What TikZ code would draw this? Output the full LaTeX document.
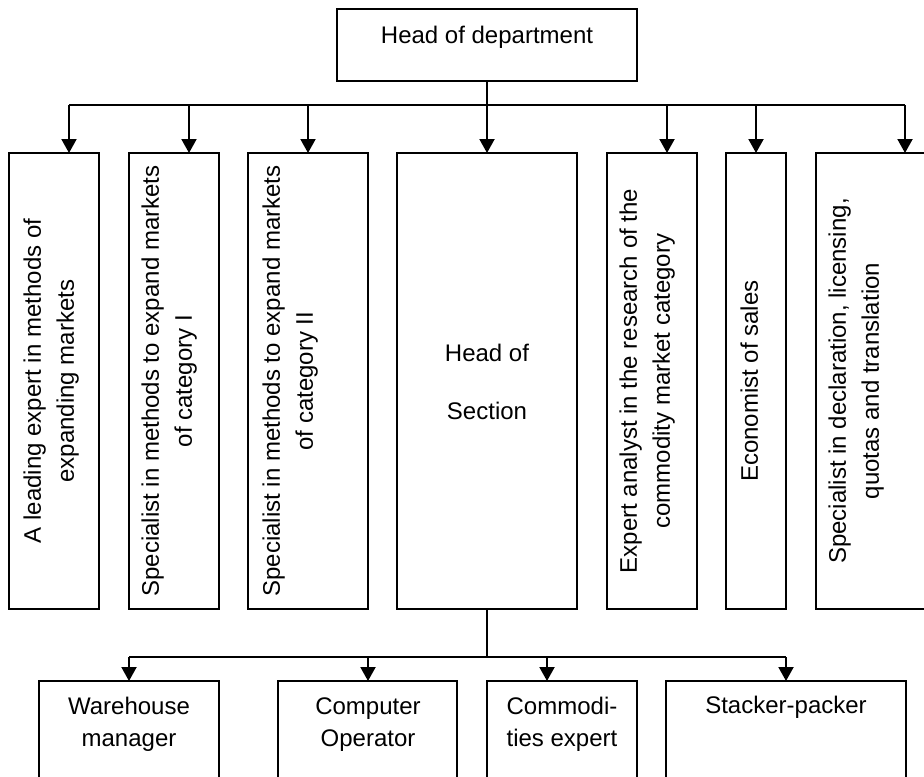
\documentclass[tikz,border=0pt]{standalone}
\usepackage{fontspec}
\setmainfont{Liberation Sans}
\usetikzlibrary{arrows.meta,fit}

\begin{document}
\begin{tikzpicture}[x=0.5pt,y=-0.5pt,
  box/.style={draw, line width=0.65pt, inner sep=0pt, outer sep=0pt},
  arr/.style={line width=1pt, -{Triangle[width=7.5pt,length=7pt]}},
  bus/.style={line width=0.6pt},
  lbl/.style={inner sep=0pt, anchor=north, align=center,
              font=\fontsize{12}{16.5}\selectfont},
  vlbl/.style={lbl, rotate=90}]
\useasboundingbox (0,0) rectangle (924,776);
\clip (0,0) rectangle (924,776);

% top of the chart
\node[box, fit={(337,9) (637,81)}] (head) {};
\node[lbl] (headtxt) at (487,26) {Head of department};

% first level: staff under the head of department
\node[box, fit={(9,153) (99,609)}]    (b1) {};
\node[box, fit={(129,153) (219,609)}] (b2) {};
\node[box, fit={(248,153) (368,609)}] (b3) {};
\node[box, fit={(397,153) (577,609)}] (b4) {};
\node[box, fit={(607,153) (697,609)}] (b5) {};
\node[box, fit={(726,153) (786,609)}] (b6) {};
\node[box, fit={(816,153) (996,609)}] (b7) {};

\node[vlbl] (t1) at (23,381)  {A leading expert in methods of\\expanding markets};
\node[vlbl] (t2) at (141,381) {Specialist in methods to expand markets\\of category I};
\node[vlbl] (t3) at (262,381) {Specialist in methods to expand markets\\of category II};
\node[lbl, font=\fontsize{12}{29}\selectfont] (t4) at (487,344) {Head of\\Section};
\node[vlbl] (t5) at (619,381) {Expert analyst in the research of the\\commodity market category};
\node[vlbl] (t6) at (740,381) {Economist of sales};
\node[vlbl] (t7) at (828,381) {Specialist in declaration, licensing,\\quotas and translation};

% second level: staff under the head of section
\node[box, fit={(39,681) (219,800)}]  (w1) {};
\node[box, fit={(278,681) (457,800)}] (w2) {};
\node[box, fit={(487,681) (637,800)}] (w3) {};
\node[box, fit={(666,681) (906,800)}] (w4) {};

\node[lbl, font=\fontsize{12}{16}\selectfont] (s1) at (129,697) {Warehouse\\manager};
\node[lbl, font=\fontsize{12}{16}\selectfont] (s2) at (368,697) {Computer\\Operator};
\node[lbl, font=\fontsize{12}{16}\selectfont] (s3) at (562,697) {Commodi-\\ties expert};
\node[lbl, font=\fontsize{12}{16}\selectfont] (s4) at (786,696) {Stacker-packer};

% upper distribution bus
\coordinate (u1) at (69,105);
\coordinate (u2) at (189,105);
\coordinate (u3) at (308,105);
\coordinate (u5) at (667,105);
\coordinate (u6) at (756,105);
\coordinate (u7) at (905,105);
\draw[bus] (u1) -- (u7);
\draw[arr] (head.south) -- (b4.north);
\foreach \i/\b in {1/b1,2/b2,3/b3,5/b5,6/b6,7/b7}
  \draw[arr] (u\i) -- (u\i |- \b.north);

% lower distribution bus
\coordinate (d0) at (487,657);
\coordinate (d1) at (129,657);
\coordinate (d2) at (368,657);
\coordinate (d3) at (547,657);
\coordinate (d4) at (786,657);
\draw[bus] (b4.south) -- (d0);
\draw[bus] (d1) -- (d4);
\foreach \i in {1,2,3,4}
  \draw[arr] (d\i) -- (d\i |- w\i.north);
\end{tikzpicture}
\end{document}
